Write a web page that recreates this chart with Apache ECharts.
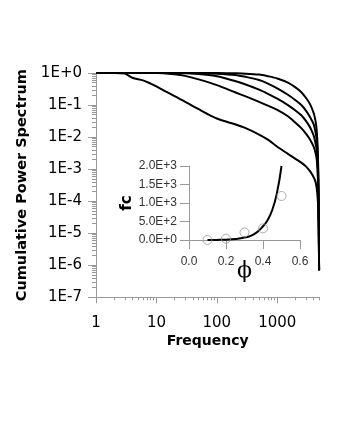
<!DOCTYPE html>
<html>
<head>
<meta charset="utf-8">
<script src="https://cdn.jsdelivr.net/npm/echarts@6/dist/echarts.min.js"></script>
<style>
  html, body { margin: 0; padding: 0; background: #fff; }
  #chart { width: 340px; height: 440px; }
</style>
</head>
<body>
<div id="chart"></div>
<script>
// frequency (x) for each spectrum curve, cumulative power (y)
const freqA = [1, 100, 200, 300, 500, 700, 1000, 1500, 2000, 2500, 3000, 3500, 4000, 4300, 4500, 4700, 4850, 4920]
const powA  = [1, 1, 0.977, 0.955, 0.891, 0.794, 0.676, 0.501, 0.355, 0.251, 0.166, 0.105, 0.0562, 0.0316, 0.0158, 0.0032, 0.0001, 7e-7]

const freqB = [1, 50, 100, 200, 300, 500, 700, 1000, 1500, 2000, 2500, 3000, 3500, 4000, 4300, 4500, 4700, 4850, 4920]
const powB  = [1, 1, 0.955, 0.871, 0.759, 0.603, 0.468, 0.331, 0.209, 0.141, 0.1, 0.0661, 0.0417, 0.0251, 0.0141, 0.0079, 0.002, 6.3e-5, 7e-7]

const freqC = [1, 20, 50, 100, 200, 300, 500, 700, 1000, 1500, 2000, 2500, 3000, 3500, 4000, 4300, 4500, 4700, 4850, 4920]
const powC  = [1, 1, 0.933, 0.794, 0.562, 0.437, 0.302, 0.224, 0.158, 0.1, 0.0676, 0.0479, 0.0316, 0.02, 0.0112, 0.0063, 0.004, 0.001, 4e-5, 7e-7]

const freqD = [1, 10, 20, 30, 50, 100, 200, 300, 500, 700, 1000, 1500, 2000, 2500, 3000, 3500, 4000, 4300, 4500, 4700, 4850, 4920]
const powD  = [1, 1, 0.912, 0.813, 0.631, 0.417, 0.251, 0.186, 0.126, 0.0955, 0.0708, 0.0447, 0.0282, 0.019, 0.0126, 0.0083, 0.005, 0.0032, 0.002, 0.0005, 2.5e-5, 7e-7]

const freqE = [1, 2, 3, 4, 6, 8, 10, 15, 20, 30, 40, 50, 70, 100, 150, 200, 300, 500, 700, 1000, 1500, 2000, 2500, 3000, 3500, 4000, 4300, 4500, 4700, 4850, 4920]
const powE  = [1, 1, 0.955, 0.708, 0.589, 0.468, 0.38, 0.251, 0.191, 0.126, 0.0933, 0.0741, 0.0525, 0.038, 0.0295, 0.0251, 0.019, 0.012, 0.0083, 0.005, 0.003, 0.0021, 0.0016, 0.0012, 0.00085, 0.00056, 0.0004, 0.00025, 0.0001, 1.26e-5, 7e-7]

// inset: fc against phi
const phiPoints = [0.1, 0.2, 0.3, 0.4, 0.5]
const fcPoints  = [0, 35, 205, 315, 1190]
const phiFit = [0.1, 0.15, 0.2, 0.25, 0.3, 0.35, 0.4, 0.425, 0.45, 0.475, 0.5]
const fcFit  = [0, 3, 10, 25, 65, 150, 370, 540, 810, 1260, 2000]

// tick values
const freqTicks = [1, 10, 100, 1000]
const freqMinor = [2, 3, 4, 5, 6, 7, 8, 9, 20, 30, 40, 50, 60, 70, 80, 90,
  200, 300, 400, 500, 600, 700, 800, 900, 2000, 3000, 4000, 5000]
const powTicks = [1e-7, 1e-6, 1e-5, 1e-4, 1e-3, 1e-2, 1e-1, 1]
const powMinor = []
powTicks.slice(0, -1).forEach(d => {
  for (let k = 2; k <= 9; k++) powMinor.push(d * k)
})

const zip = (xs, ys) => xs.map((x, i) => [x, ys[i]])

const axisGray = '#999'
const lineStyle = { color: '#000', width: 2 }

function powLabel(v) {
  const e = Math.round(Math.log10(v))
  return '1E' + (e >= 0 ? '+' : '-') + Math.abs(e)
}

function curve(name, xs, ys) {
  return {
    name: name,
    type: 'line',
    xAxisIndex: 0,
    yAxisIndex: 0,
    data: zip(xs, ys),
    showSymbol: false,
    smooth: 0.3,
    lineStyle: lineStyle,
    z: 3
  }
}

const chart = echarts.init(document.getElementById('chart'), null, { renderer: 'canvas' })
chart.setOption({
  animation: false,
  backgroundColor: '#fff',
  grid: [
    { left: 96, top: 73, right: 20.5, bottom: 142.7 },
    { left: 189, top: 166, right: 40, bottom: 200 }
  ],
  xAxis: [
    {
      type: 'log', gridIndex: 0, min: 1, max: 5000, position: 'bottom',
      name: 'Frequency', nameLocation: 'middle', nameGap: 37, nameMoveOverlap: false,
      nameTextStyle: { fontFamily: 'DejaVu Sans', fontWeight: 'bold', fontSize: 14, color: '#000' },
      axisLine: { onZero: false, lineStyle: { color: axisGray } },
      axisTick: { customValues: freqTicks, length: 6, lineStyle: { color: axisGray } },
      axisLabel: { customValues: freqTicks, margin: 18, fontFamily: 'DejaVu Sans', fontSize: 15, color: '#000', formatter: v => String(v) },
      splitLine: { show: false }
    },
    {
      type: 'log', gridIndex: 0, min: 1, max: 5000, position: 'bottom',
      axisLine: { show: false, onZero: false },
      axisTick: { customValues: freqMinor, length: 3, lineStyle: { color: axisGray } },
      axisLabel: { show: false },
      splitLine: { show: false }
    },
    {
      type: 'value', gridIndex: 1, min: 0, max: 0.6, interval: 0.2,
      name: 'ϕ', nameLocation: 'middle', nameGap: 20, nameMoveOverlap: false,
      nameTextStyle: { fontFamily: 'DejaVu Serif', fontSize: 22, color: '#000' },
      axisLine: { onZero: false, lineStyle: { color: axisGray } },
      axisTick: { length: 9, lineStyle: { color: axisGray } },
      axisLabel: { margin: 16, fontFamily: 'Liberation Sans', fontSize: 12, color: '#333', formatter: v => v.toFixed(1) },
      splitLine: { show: false }
    }
  ],
  yAxis: [
    {
      type: 'log', gridIndex: 0, min: 1e-7, max: 1, position: 'left',
      name: 'Cumulative Power Spectrum', nameLocation: 'middle', nameGap: 62,
      nameTextStyle: { fontFamily: 'DejaVu Sans', fontWeight: 'bold', fontSize: 14.5, color: '#000' },
      axisLine: { onZero: false, lineStyle: { color: axisGray } },
      axisTick: { customValues: powTicks, length: 8, lineStyle: { color: axisGray } },
      axisLabel: { customValues: powTicks, margin: 14, fontFamily: 'DejaVu Sans', fontSize: 15, color: '#000', formatter: powLabel },
      splitLine: { show: false }
    },
    {
      type: 'log', gridIndex: 0, min: 1e-7, max: 1, position: 'left',
      axisLine: { show: false, onZero: false },
      axisTick: { customValues: powMinor, length: 4, lineStyle: { color: axisGray } },
      axisLabel: { show: false },
      splitLine: { show: false }
    },
    {
      type: 'value', gridIndex: 1, min: 0, max: 2000, interval: 500,
      name: 'fc', nameLocation: 'middle', nameGap: 20,
      nameTextStyle: { fontFamily: 'DejaVu Sans', fontWeight: 'bold', fontSize: 15, color: '#000' },
      axisLine: { show: true, onZero: false, lineStyle: { color: axisGray } },
      axisTick: { show: true, length: 9, lineStyle: { color: axisGray } },
      axisLabel: { margin: 12, fontFamily: 'Liberation Sans', fontSize: 12, color: '#333', formatter: v => v.toExponential(1).toUpperCase() },
      splitLine: { show: false }
    }
  ],
  series: [
    curve('A', freqA, powA),
    curve('B', freqB, powB),
    curve('C', freqC, powC),
    curve('D', freqD, powD),
    curve('E', freqE, powE),
    {
      name: 'fit',
      type: 'line',
      xAxisIndex: 2,
      yAxisIndex: 2,
      data: zip(phiFit, fcFit),
      showSymbol: false,
      smooth: true,
      lineStyle: { color: '#000', width: 2 },
      z: 4
    },
    {
      name: 'fc',
      type: 'scatter',
      xAxisIndex: 2,
      yAxisIndex: 2,
      data: zip(phiPoints, fcPoints),
      symbol: 'circle',
      symbolSize: 9,
      itemStyle: { color: 'rgba(0,0,0,0)', borderColor: '#999', borderWidth: 1 },
      z: 5
    }
  ]
})
</script>
</body>
</html>
